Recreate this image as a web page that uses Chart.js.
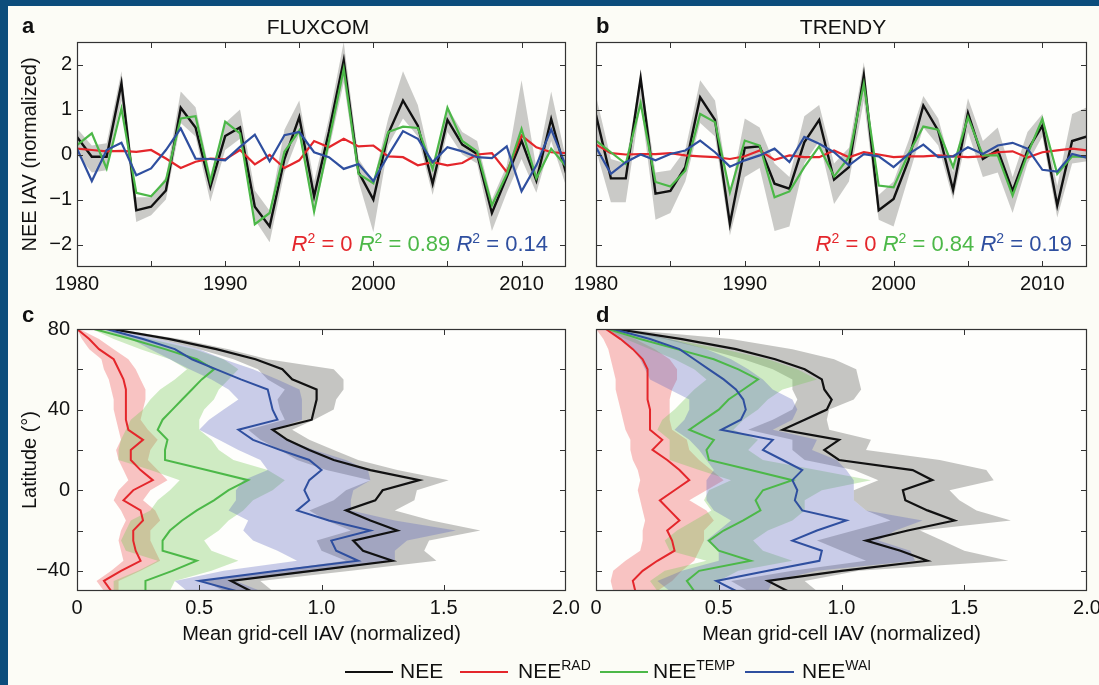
<!DOCTYPE html>
<html><head><meta charset="utf-8">
<script src="https://cdn.jsdelivr.net/npm/chart.js@4.4.0/dist/chart.umd.min.js"></script>
<style>
html,body{margin:0;padding:0;overflow:hidden;background:#fcfcf6;}
#wrap{position:relative;width:1099px;height:685px;overflow:hidden;background:#fcfcf6;font-family:"Liberation Sans",Arial,Helvetica,sans-serif;color:#111;}
canvas{position:absolute;left:0;top:0;}
.bar{position:absolute;background:#0c4d7c;z-index:5;}
.t{position:absolute;white-space:nowrap;font-size:20px;line-height:20px;z-index:4;}
.ttl{font-size:21px;line-height:21px;}
.b{font-weight:bold;font-size:22px;line-height:22px;}
.r2{font-size:22px;line-height:22px;}
.r2 i{font-style:italic;}
.r2 .s{font-size:14px;position:relative;top:-8px;}
.lg{font-size:21px;line-height:21px;}
.lg .s{font-size:14px;position:relative;top:-8px;}
.ln{position:absolute;height:2px;z-index:4;}
</style></head>
<body><div id="wrap">
<canvas id="ca" width="1099" height="685"></canvas>
<canvas id="cb" width="1099" height="685"></canvas>
<canvas id="cc" width="1099" height="685"></canvas>
<canvas id="cd" width="1099" height="685"></canvas>
<div class="bar" style="left:0;top:0;width:1099px;height:6px"></div>
<div class="bar" style="left:0;top:0;width:8px;height:685px"></div>

<div class="t b" style="left:22px;top:15px">a</div>
<div class="t ttl" style="left:318px;top:16px;transform:translateX(-50%)">FLUXCOM</div>
<div class="t b" style="left:596px;top:15px">b</div>
<div class="t ttl" style="left:843px;top:16px;transform:translateX(-50%)">TRENDY</div>
<div class="t b" style="left:22px;top:304px">c</div>
<div class="t b" style="left:596px;top:304px">d</div>

<div class="t r2" style="right:551px;top:233px"><span style="color:#e4262b"><i>R</i><span class="s">2</span> = 0</span> <span style="color:#4cb848"><i>R</i><span class="s">2</span> = 0.89</span> <span style="color:#2f4f9f"><i>R</i><span class="s">2</span> = 0.14</span></div>
<div class="t r2" style="right:27px;top:233px"><span style="color:#e4262b"><i>R</i><span class="s">2</span> = 0</span> <span style="color:#4cb848"><i>R</i><span class="s">2</span> = 0.84</span> <span style="color:#2f4f9f"><i>R</i><span class="s">2</span> = 0.19</span></div>

<div class="ln" style="left:345px;top:671px;width:48px;background:#111"></div>
<div class="t lg" style="left:400px;top:660px">NEE</div>
<div class="ln" style="left:460px;top:671px;width:48px;background:#e4262b"></div>
<div class="t lg" style="left:518px;top:660px">NEE<span class="s">RAD</span></div>
<div class="ln" style="left:600px;top:671px;width:48px;background:#4cb848"></div>
<div class="t lg" style="left:653px;top:660px">NEE<span class="s">TEMP</span></div>
<div class="ln" style="left:745px;top:671px;width:49px;background:#2f4f9f"></div>
<div class="t lg" style="left:802px;top:660px">NEE<span class="s">WAI</span></div>
</div>
<script>
// ---------- data ----------
const years = [1980,1981,1982,1983,1984,1985,1986,1987,1988,1989,1990,1991,1992,1993,1994,1995,1996,1997,1998,1999,2000,2001,2002,2003,2004,2005,2006,2007,2008,2009,2010,2011,2012,2013];
const yearTickLabels = [1980,1990,2000,2010];
const yearTickMarks = [1985,1990,1995,2000,2005,2010];
const iavTicks = [-2,-1,0,1,2];

// FLUXCOM (panel a)
const fxNEE  = [0.39,-0.05,-0.05,1.58,-1.24,-1.16,-0.8,1.04,0.6,-0.72,0.41,0.6,-1.16,-1.6,-0.1,0.83,-0.93,0.5,2.09,-0.39,-1.0,0.46,1.2,0.64,-0.65,0.77,0.22,0.01,-1.3,-0.5,0.31,-0.58,0.79,-0.41];
const fxRAD  = [0.13,0.1,0.07,0.08,0.06,0.1,-0.09,-0.3,-0.16,-0.09,-0.11,0.1,-0.22,-0.01,-0.3,-0.13,0.3,0.16,0.35,0.18,0.2,-0.04,-0.06,-0.24,-0.17,-0.24,-0.19,0.0,0.03,-0.39,0.42,0.16,0.05,0.03];
const fxTEMP = [0.21,0.47,-0.31,1.02,-0.85,-0.93,-0.57,0.8,0.85,-0.6,0.73,0.47,-1.55,-1.3,0.06,0.53,-1.27,0.3,1.9,-0.43,-0.64,0.5,0.62,0.59,-0.32,1.04,0.3,0.07,-1.13,-0.44,0.57,-0.53,0.13,-0.26];
const fxWAI  = [0.13,-0.59,0.1,0.26,-0.46,-0.31,0.1,0.58,-0.09,-0.1,-0.13,0.17,0.44,-0.15,0.43,0.5,0.05,-0.06,-0.32,-0.21,-0.59,-0.02,0.52,0.35,-0.17,0.16,0.07,-0.06,-0.08,0.18,-0.82,-0.24,0.56,-0.26];
const fxLo   = [0.0,-0.4,-0.35,1.2,-1.5,-1.35,-1.0,0.7,0.4,-1.05,0.1,0.35,-1.45,-1.95,-0.4,0.45,-1.3,0.1,1.6,-0.6,-1.73,0.2,0.8,0.4,-0.9,0.5,0.0,-0.2,-1.7,-0.85,-0.1,-0.85,0.3,-0.7];
const fxHi   = [0.58,0.2,0.25,1.85,-0.95,-0.95,-0.5,1.4,1.05,-0.45,0.7,1.0,-0.8,-1.25,0.55,1.2,-0.6,0.8,2.5,-0.1,-0.6,0.8,1.85,1.1,-0.35,1.05,0.5,0.3,-1.0,-0.25,1.65,-0.3,1.4,-0.1];

// TRENDY (panel b)
const trNEE  = [0.88,-0.53,-0.53,1.7,-0.87,-0.81,-0.28,1.27,0.77,-1.54,0.15,0.18,-0.65,-0.76,0.27,0.77,-0.56,-0.28,1.76,-1.24,-0.99,-0.13,1.09,0.53,-0.79,0.92,-0.1,0.1,-0.81,0.09,0.64,-1.13,0.3,0.4];
const trRAD  = [0.22,0.03,0.0,0.01,0.01,0.03,-0.02,-0.04,-0.06,-0.1,-0.04,0.09,-0.12,-0.02,-0.06,-0.06,0.09,-0.06,0.05,0.0,-0.06,-0.04,-0.04,-0.02,-0.04,-0.06,-0.04,0.05,0.07,-0.07,0.05,0.09,0.13,0.09];
const trTEMP = [0.31,0.05,-0.21,1.14,-0.61,-0.71,-0.36,0.9,0.72,-0.84,0.31,0.2,-0.95,-0.82,-0.28,0.18,-0.49,-0.06,1.57,-0.69,-0.73,0.01,0.62,0.55,-0.28,0.83,-0.02,-0.02,-0.91,0.01,0.79,-0.43,-0.04,-0.06];
const trWAI  = [0.16,-0.43,-0.17,0.0,-0.13,0.01,0.09,0.31,0.05,-0.27,-0.13,-0.02,0.13,-0.17,0.39,0.24,0.05,-0.24,0.01,-0.04,-0.28,0.01,0.22,-0.06,-0.04,0.16,0.01,0.2,0.26,0.13,-0.34,-0.38,0.01,-0.07];
const trLo   = [0.1,-1.06,-1.06,1.15,-1.45,-1.3,-0.6,0.7,0.4,-1.8,-0.5,-0.3,-1.7,-1.6,-0.2,0.3,-1.1,-0.6,1.2,-1.45,-1.6,-0.5,0.6,0.2,-1.0,0.5,-0.5,-0.4,-1.3,-0.2,0.4,-1.4,-0.2,-0.15];
const trHi   = [1.3,-0.1,-0.2,1.8,-0.4,-0.35,0.1,1.65,1.2,-0.9,0.8,0.6,-0.2,-0.5,0.85,1.1,-0.2,0.15,2.05,-0.9,-0.6,0.3,1.3,0.8,-0.4,1.25,0.3,0.6,-0.5,0.5,0.9,-0.7,0.9,1.05];

// Latitude profiles (panels c, d)
const lats = [80,75,70,65,60,55,50,45,40,35,30,25,20,15,10,5,0,-5,-10,-15,-20,-25,-30,-35,-40,-45,-50];
const latTickLabels = [80,40,0,-40];
const latTickMarks = [60,40,20,0,-20,-40];
const iavLabels = [0,0.5,1,1.5,2];
const iavMarks = [0.5,1,1.5];

const cNEE   = [0.14,0.38,0.57,0.73,0.84,0.88,0.98,0.98,0.97,0.96,0.80,0.86,0.95,1.05,1.20,1.40,1.25,1.22,1.10,1.20,1.31,1.13,1.17,1.29,0.96,0.63,0.71];
const cNEElo = [0.12,0.33,0.5,0.64,0.74,0.78,0.85,0.82,0.83,0.85,0.7,0.75,0.83,0.9,1.02,1.2,1.1,1.05,0.95,1.02,1.12,0.98,1.0,1.1,0.8,0.52,0.6];
const cNEEhi = [0.16,0.42,0.62,0.78,1.05,1.09,1.09,1.06,1.05,0.97,0.88,0.95,1.05,1.15,1.31,1.52,1.39,1.38,1.3,1.45,1.65,1.44,1.42,1.47,1.12,0.75,0.8];
const cRAD   = [0.0,0.05,0.09,0.15,0.17,0.19,0.2,0.2,0.2,0.2,0.21,0.27,0.22,0.22,0.26,0.31,0.23,0.19,0.26,0.27,0.23,0.23,0.24,0.26,0.18,0.11,0.14];
const cRADlo = [0.0,0.02,0.05,0.1,0.11,0.13,0.14,0.15,0.15,0.16,0.17,0.18,0.16,0.17,0.19,0.21,0.17,0.15,0.18,0.2,0.18,0.17,0.18,0.19,0.14,0.08,0.11];
const cRADhi = [0.01,0.09,0.15,0.21,0.24,0.26,0.28,0.28,0.27,0.26,0.29,0.33,0.3,0.29,0.33,0.37,0.3,0.27,0.32,0.34,0.3,0.3,0.32,0.34,0.26,0.17,0.17];
const cTEMP  = [0.07,0.22,0.36,0.49,0.56,0.51,0.47,0.43,0.39,0.35,0.33,0.37,0.36,0.36,0.53,0.7,0.62,0.56,0.49,0.43,0.38,0.35,0.35,0.49,0.39,0.28,0.28];
const cTEMPlo= [0.06,0.15,0.26,0.38,0.45,0.4,0.34,0.3,0.27,0.22,0.2,0.18,0.17,0.17,0.3,0.42,0.38,0.33,0.3,0.22,0.2,0.18,0.2,0.33,0.25,0.15,0.15];
const cTEMPhi= [0.09,0.3,0.48,0.6,0.66,0.62,0.58,0.56,0.52,0.5,0.5,0.55,0.58,0.64,0.78,0.85,0.8,0.72,0.68,0.62,0.58,0.52,0.55,0.66,0.55,0.4,0.38];
const cWAI   = [0.12,0.27,0.4,0.47,0.57,0.67,0.78,0.79,0.8,0.82,0.66,0.72,0.83,0.95,1.0,0.95,0.93,0.95,0.9,1.03,1.2,1.04,1.06,1.15,0.82,0.5,0.65];
const cWAIlo = [0.1,0.22,0.3,0.38,0.46,0.55,0.62,0.66,0.6,0.54,0.5,0.58,0.66,0.75,0.78,0.68,0.65,0.65,0.62,0.7,0.68,0.72,0.82,0.9,0.6,0.4,0.45];
const cWAIhi = [0.14,0.33,0.5,0.6,0.72,0.82,0.91,0.92,0.92,0.92,0.8,0.86,0.97,1.1,1.19,1.2,1.13,1.12,1.12,1.3,1.55,1.35,1.3,1.3,1.0,0.65,0.75];

const dNEE   = [0.08,0.35,0.57,0.73,0.85,0.92,0.93,0.96,0.94,0.85,0.76,0.99,0.93,0.99,1.29,1.37,1.25,1.26,1.35,1.46,1.27,1.1,1.24,1.35,1.0,0.7,0.78];
const dNEElo = [0.07,0.28,0.45,0.6,0.72,0.8,0.8,0.82,0.8,0.72,0.62,0.8,0.8,0.85,1.05,1.15,1.05,1.05,1.1,1.2,1.05,0.9,1.0,1.1,0.8,0.55,0.62];
const dNEEhi = [0.1,0.55,0.8,0.97,1.06,1.07,1.08,1.05,0.95,0.94,0.95,1.12,1.1,1.4,1.59,1.62,1.44,1.48,1.55,1.69,1.32,1.41,1.5,1.68,1.07,0.85,0.9];
const dRAD   = [0.04,0.1,0.15,0.19,0.21,0.21,0.21,0.21,0.22,0.22,0.22,0.27,0.23,0.29,0.34,0.38,0.32,0.26,0.3,0.34,0.29,0.31,0.32,0.25,0.19,0.15,0.16];
const dRADlo = [0.0,0.03,0.05,0.06,0.07,0.08,0.08,0.09,0.1,0.11,0.12,0.14,0.14,0.15,0.17,0.18,0.17,0.18,0.19,0.2,0.19,0.19,0.18,0.12,0.07,0.06,0.07];
const dRADhi = [0.05,0.16,0.24,0.3,0.33,0.33,0.31,0.3,0.3,0.3,0.31,0.37,0.38,0.42,0.47,0.52,0.45,0.38,0.45,0.48,0.44,0.44,0.42,0.4,0.35,0.31,0.25];
const dTEMP  = [0.05,0.18,0.33,0.48,0.58,0.66,0.6,0.54,0.5,0.44,0.38,0.48,0.45,0.46,0.63,0.8,0.68,0.65,0.67,0.6,0.52,0.46,0.5,0.63,0.42,0.37,0.4];
const dTEMPlo= [0.04,0.12,0.22,0.32,0.4,0.45,0.4,0.36,0.32,0.27,0.25,0.3,0.3,0.3,0.42,0.55,0.46,0.44,0.47,0.4,0.33,0.28,0.3,0.45,0.28,0.22,0.25];
const dTEMPhi= [0.07,0.3,0.52,0.7,0.82,0.9,0.76,0.7,0.66,0.6,0.56,0.66,0.62,0.68,0.9,1.12,0.92,0.85,0.85,0.8,0.7,0.64,0.68,0.8,0.58,0.5,0.5];
const dWAI   = [0.07,0.22,0.34,0.4,0.46,0.52,0.57,0.6,0.61,0.59,0.51,0.72,0.68,0.76,0.84,0.8,0.82,0.81,0.84,1.02,0.9,0.8,0.92,0.91,0.7,0.49,0.57];
const dWAIlo = [0.05,0.1,0.15,0.18,0.2,0.22,0.3,0.38,0.38,0.36,0.32,0.38,0.42,0.45,0.48,0.45,0.45,0.45,0.48,0.55,0.5,0.45,0.5,0.5,0.35,0.25,0.3];
const dWAIhi = [0.1,0.3,0.45,0.55,0.62,0.68,0.72,0.8,0.82,0.8,0.72,0.9,0.88,0.98,1.02,1.05,1.05,1.05,1.1,1.33,1.22,1.15,1.28,1.3,0.9,0.72,0.7];

// ---------- styling ----------
const W = 1099, H = 685;
const FONT = '"Liberation Sans", Arial, Helvetica, sans-serif';
Chart.defaults.font.family = FONT;
Chart.defaults.font.size = 20;
Chart.defaults.color = '#111';

const C_NEE = '#111111', C_RAD = '#e4262b', C_TEMP = '#4cb848', C_WAI = '#2f4f9f';
const F_GREY_TS = 'rgba(140,140,136,0.45)';
const F_GREY = 'rgba(120,120,115,0.42)';
const F_RAD = 'rgba(240,100,100,0.38)';
const F_TEMP = 'rgba(120,200,90,0.35)';
const F_WAI = 'rgba(90,100,190,0.32)';

function minusFmt(v){ return String(v).replace('-', '\u2212'); }
function fixY(w){ return s => { s.width = w; s.paddingTop = 0; s.paddingBottom = 0; }; }
function fixX(h){ return s => { s.height = h; s.paddingLeft = 0; s.paddingRight = 0; }; }
function setTicks(vals){ return s => { s.ticks = vals.map(v => ({value: v})); }; }

function tsLine(vals){ return years.map((y,i) => ({x: y, y: vals[i]})); }
function tsBand(lo, hi){
  const up = years.map((y,i) => ({x: y, y: hi[i]}));
  const dn = years.map((y,i) => ({x: y, y: lo[i]})).reverse();
  return up.concat(dn);
}
function latLine(vals){ return lats.map((l,i) => ({x: vals[i], y: l})); }
function latBand(lo, hi){
  const a = lats.map((l,i) => ({x: hi[i], y: l}));
  const b = lats.map((l,i) => ({x: lo[i], y: l})).reverse();
  return a.concat(b);
}
function lineDS(data, color, w, order){
  return {data, borderColor: color, borderWidth: w, pointRadius: 0, fill: false, tension: 0, order};
}
function bandDS(data, color, order){
  return {data, borderWidth: 0, borderColor: 'rgba(0,0,0,0)', backgroundColor: color, pointRadius: 0, fill: 'shape', tension: 0, order};
}

const framePlugin = {
  id: 'frame',
  beforeDraw(chart){
    const {ctx, chartArea: a} = chart;
    ctx.save();
    ctx.fillStyle = '#fefefc';
    ctx.fillRect(a.left, a.top, a.right - a.left, a.bottom - a.top);
    ctx.restore();
  },
  afterDraw(chart, args, opts){
    const {ctx, chartArea: a, scales} = chart;
    ctx.save();
    ctx.strokeStyle = '#333';
    ctx.lineWidth = 1;
    ctx.beginPath();
    for (const v of opts.xt){
      const px = Math.round(scales.x.getPixelForValue(v)) + 0.5;
      ctx.moveTo(px, a.bottom); ctx.lineTo(px, a.bottom - 6);
      ctx.moveTo(px, a.top); ctx.lineTo(px, a.top + 6);
    }
    for (const v of opts.yt){
      const py = Math.round(scales.y.getPixelForValue(v)) + 0.5;
      ctx.moveTo(a.left, py); ctx.lineTo(a.left + 6, py);
      ctx.moveTo(a.right, py); ctx.lineTo(a.right - 6, py);
    }
    ctx.stroke();
    ctx.lineWidth = 1.2;
    ctx.strokeRect(a.left + 0.5, a.top + 0.5, a.right - a.left - 1, a.bottom - a.top - 1);
    ctx.restore();
  }
};

function build(id, area, yW, xH, xOpt, yOpt, datasets, xt, yt){
  const base = {type: 'linear', grid: {display: false, drawTicks: false}, border: {display: false}};
  return new Chart(document.getElementById(id), {
    type: 'line',
    data: {datasets},
    options: {
      responsive: false, animation: false, devicePixelRatio: 1, events: [],
      layout: {padding: {left: area.l - yW, top: area.t, right: W - area.r, bottom: H - area.b - xH}},
      plugins: {legend: {display: false}, tooltip: {enabled: false},
                filler: {drawTime: 'beforeDatasetsDraw', propagate: false},
                frame: {xt, yt}},
      scales: {
        x: Object.assign({}, base, {position: 'bottom', afterFit: fixX(xH)}, xOpt),
        y: Object.assign({}, base, {position: 'left', afterFit: fixY(yW)}, yOpt)
      }
    },
    plugins: [framePlugin]
  });
}

const tsX = {min: 1980, max: 2013, afterBuildTicks: setTicks(yearTickLabels),
  ticks: {padding: 5, maxRotation: 0, autoSkip: false, callback: v => String(v)}};
const latXOpt = (title) => ({min: 0, max: 2, afterBuildTicks: setTicks(iavLabels),
  ticks: {padding: 5, maxRotation: 0, autoSkip: false, callback: v => v === 0 ? '0' : v.toFixed(1)},
  title: {display: true, text: title, padding: {top: 0, bottom: 0}}});

function tsSets(nee, rad, temp, wai, lo, hi){
  return [
    bandDS(tsBand(lo, hi), F_GREY_TS, 10),
    lineDS(tsLine(nee), C_NEE, 2.4, 4),
    lineDS(tsLine(rad), C_RAD, 2.2, 3),
    lineDS(tsLine(temp), C_TEMP, 2.2, 2),
    lineDS(tsLine(wai), C_WAI, 2.2, 1)
  ];
}
function latSets(p){
  return [
    bandDS(latBand(p.neeLo, p.neeHi), F_GREY, 14),
    bandDS(latBand(p.radLo, p.radHi), F_RAD, 13),
    bandDS(latBand(p.tempLo, p.tempHi), F_TEMP, 12),
    bandDS(latBand(p.waiLo, p.waiHi), F_WAI, 11),
    lineDS(latLine(p.nee), C_NEE, 2.2, 4),
    lineDS(latLine(p.rad), C_RAD, 2, 3),
    lineDS(latLine(p.temp), C_TEMP, 2, 2),
    lineDS(latLine(p.wai), C_WAI, 2, 1)
  ];
}

// Panel a
build('ca', {l: 77, t: 42, r: 566, b: 267}, 77, 40, tsX,
  {min: -2.5, max: 2.5, afterBuildTicks: setTicks(iavTicks),
   ticks: {padding: 5, callback: v => minusFmt(v)},
   title: {display: true, text: 'NEE IAV (normalized)', padding: {top: 18.5, bottom: 0}}},
  tsSets(fxNEE, fxRAD, fxTEMP, fxWAI, fxLo, fxHi), yearTickMarks, iavTicks);

// Panel b
build('cb', {l: 596, t: 42, r: 1087, b: 267}, 20, 40, tsX,
  {min: -2.5, max: 2.5, afterBuildTicks: setTicks(iavTicks), ticks: {display: false}},
  tsSets(trNEE, trRAD, trTEMP, trWAI, trLo, trHi), yearTickMarks, iavTicks);

// Panel c
build('cc', {l: 77, t: 329, r: 566, b: 591}, 77, 55, latXOpt('Mean grid-cell IAV (normalized)'),
  {min: -50, max: 80, afterBuildTicks: setTicks(latTickLabels),
   ticks: {padding: 7, callback: v => minusFmt(v)},
   title: {display: true, text: 'Latitude (\u00b0)', padding: {top: 18.5, bottom: 0}}},
  latSets({nee: cNEE, neeLo: cNEElo, neeHi: cNEEhi, rad: cRAD, radLo: cRADlo, radHi: cRADhi,
           temp: cTEMP, tempLo: cTEMPlo, tempHi: cTEMPhi, wai: cWAI, waiLo: cWAIlo, waiHi: cWAIhi}),
  iavMarks, latTickMarks);

// Panel d
build('cd', {l: 596, t: 329, r: 1087, b: 591}, 20, 55, latXOpt('Mean grid-cell IAV (normalized)'),
  {min: -50, max: 80, afterBuildTicks: setTicks(latTickLabels), ticks: {display: false}},
  latSets({nee: dNEE, neeLo: dNEElo, neeHi: dNEEhi, rad: dRAD, radLo: dRADlo, radHi: dRADhi,
           temp: dTEMP, tempLo: dTEMPlo, tempHi: dTEMPhi, wai: dWAI, waiLo: dWAIlo, waiHi: dWAIhi}),
  iavMarks, latTickMarks);
</script>
</body></html>
